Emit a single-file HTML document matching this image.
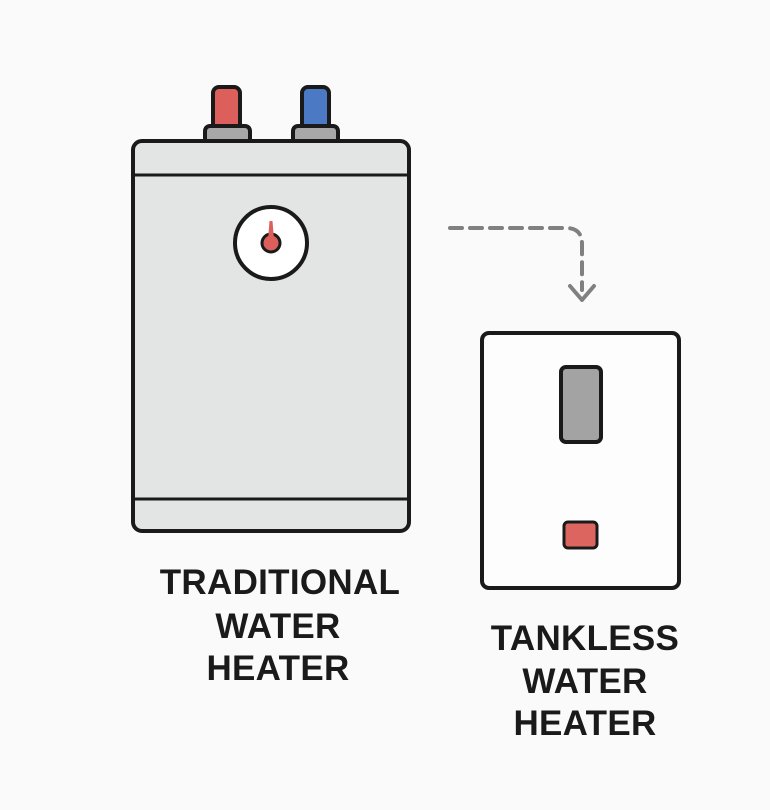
<!DOCTYPE html>
<html><head><style>
body{margin:0;background:#fafafa;}
svg{display:block}
text{font-family:"Liberation Sans",sans-serif;font-weight:bold;fill:#1a1a1a;font-size:35px;text-anchor:middle;letter-spacing:0.3px}
</style></head><body>
<svg width="770" height="810" viewBox="0 0 770 810">
<rect width="770" height="810" fill="#fafafa"/>
<rect x="213" y="87" width="27" height="44" rx="6" fill="#dd5f5c" stroke="#1a1a1a" stroke-width="4"/>
<rect x="302" y="87" width="27" height="44" rx="6" fill="#4b79c4" stroke="#1a1a1a" stroke-width="4"/>
<rect x="205" y="126" width="45" height="18" rx="5" fill="#a8a8a8" stroke="#1a1a1a" stroke-width="4"/>
<rect x="293" y="126" width="45" height="18" rx="5" fill="#a8a8a8" stroke="#1a1a1a" stroke-width="4"/>
<rect x="133" y="141" width="276" height="390" rx="9" fill="#e3e5e5" stroke="#1a1a1a" stroke-width="4"/>
<line x1="133" y1="175" x2="409" y2="175" stroke="#1a1a1a" stroke-width="3"/>
<line x1="133" y1="499" x2="409" y2="499" stroke="#1a1a1a" stroke-width="3"/>
<circle cx="271" cy="243" r="36" fill="#fff" stroke="#1a1a1a" stroke-width="4"/>
<circle cx="271" cy="243" r="9" fill="#dd5f5c" stroke="#1a1a1a" stroke-width="3"/>
<path d="M268 240 L269.5 221 L272.5 221 L274 240 Z" fill="#dd5f5c"/>
<path d="M450 228 H566 Q582 228 582 244 V290" fill="none" stroke="#808080" stroke-width="4" stroke-dasharray="12 8" stroke-linecap="round"/>
<path d="M570 286 L582 300 L594 286" fill="none" stroke="#808080" stroke-width="4" stroke-linecap="round" stroke-linejoin="round"/>
<rect x="482" y="333" width="197" height="255" rx="7" fill="#fdfdfd" stroke="#1a1a1a" stroke-width="4"/>
<rect x="561" y="367" width="40" height="75" rx="5" fill="#a3a3a3" stroke="#1a1a1a" stroke-width="4"/>
<rect x="564" y="522" width="33" height="26" rx="4" fill="#dd6560" stroke="#1a1a1a" stroke-width="3"/>
<text x="280" y="594">TRADITIONAL</text>
<text x="278" y="638">WATER</text>
<text x="278" y="680">HEATER</text>
<text x="585" y="650">TANKLESS</text>
<text x="585" y="693">WATER</text>
<text x="585" y="735">HEATER</text>
</svg>
</body></html>
